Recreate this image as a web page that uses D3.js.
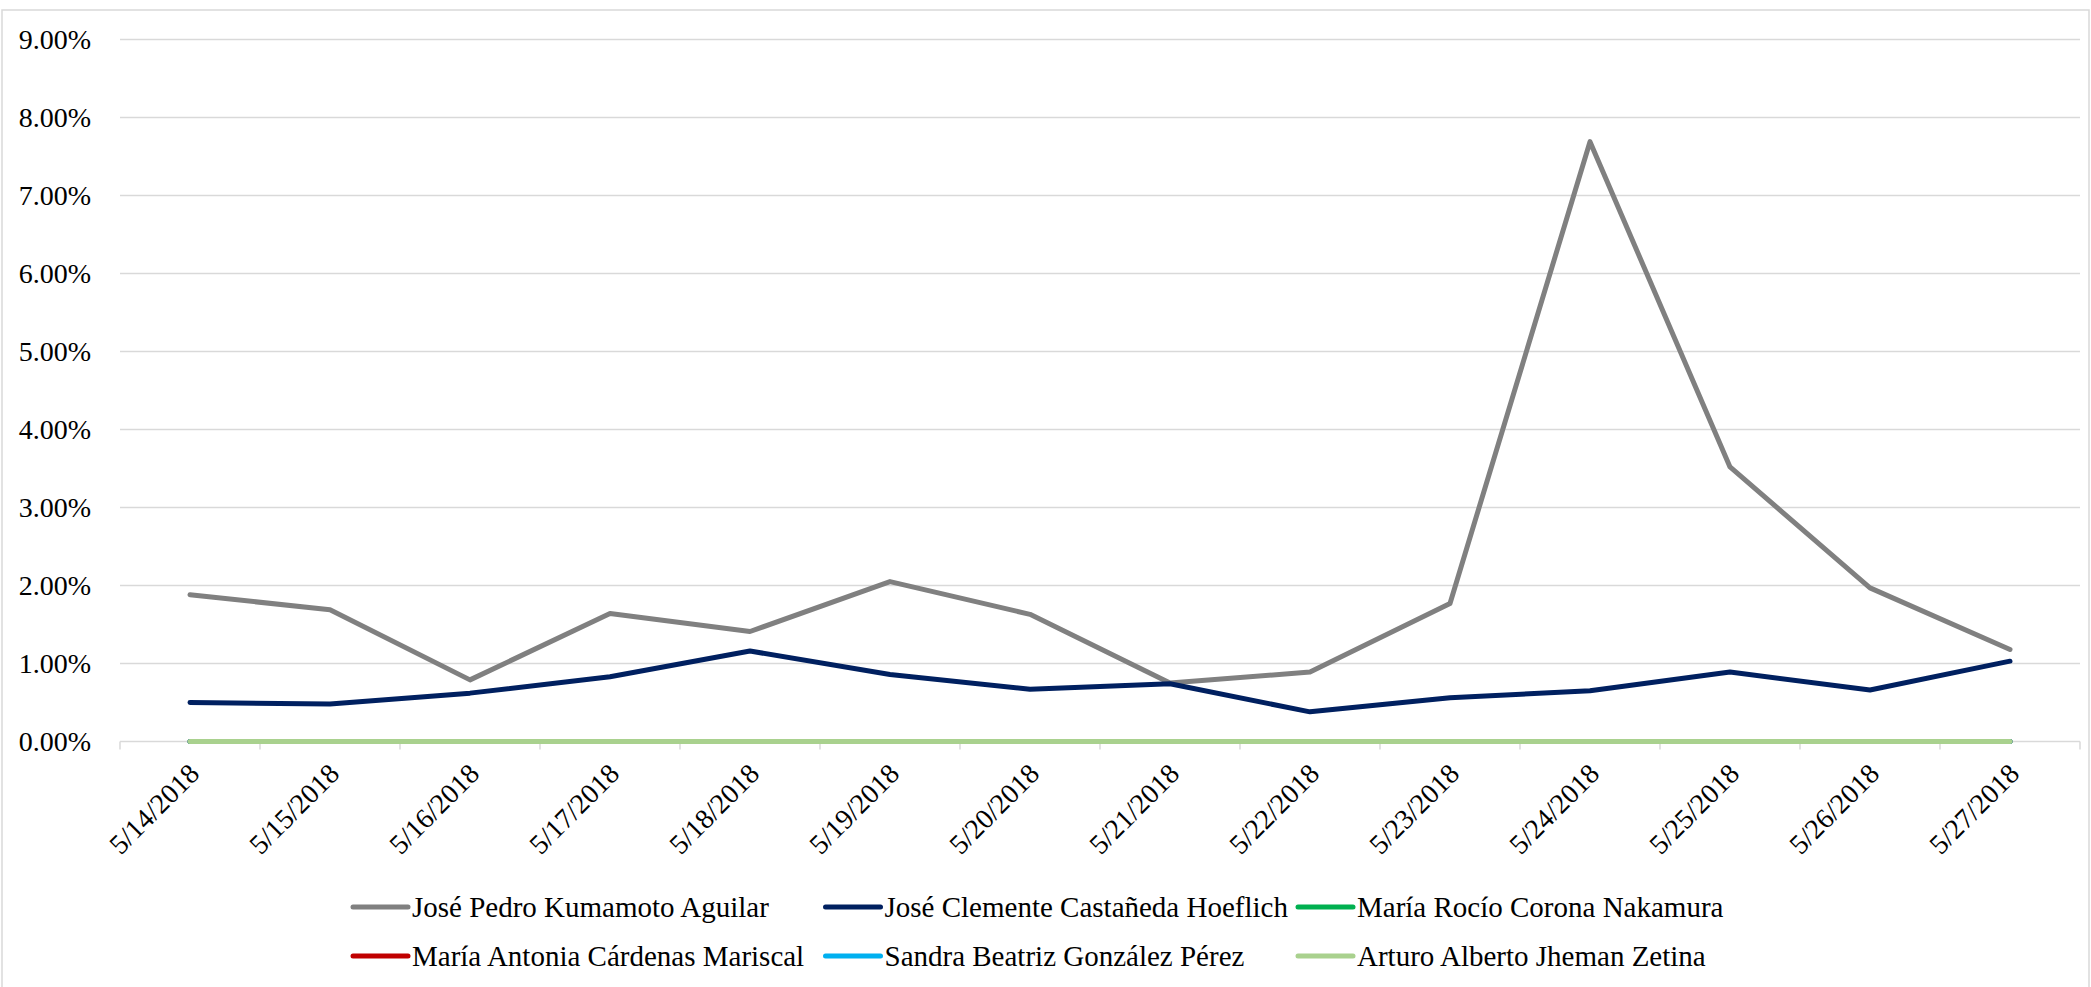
<!DOCTYPE html>
<html lang="es">

<head>
  <meta charset="UTF-8">
  <title>Line chart</title>
  <script src="https://d3js.org/d3.v7.min.js"></script>
  <style>
    body { margin: 0; background: #fff; }
    svg text { font-family: "Liberation Serif", "Times New Roman", Tinos, "DejaVu Serif", serif; fill: #000; }
    .grid line { stroke: #d9d9d9; stroke-width: 1.5px; }
    .series { fill: none; stroke-width: 5px; stroke-linejoin: round; stroke-linecap: round; }
  </style>
</head>

<body>
  <script>
    // data
    const dates = ["5/14/2018", "5/15/2018", "5/16/2018", "5/17/2018", "5/18/2018", "5/19/2018", "5/20/2018",
      "5/21/2018", "5/22/2018", "5/23/2018", "5/24/2018", "5/25/2018", "5/26/2018", "5/27/2018"];
    const names = ["José Pedro Kumamoto Aguilar", "José Clemente Castañeda Hoeflich", "María Rocío Corona Nakamura",
      "María Antonia Cárdenas Mariscal", "Sandra Beatriz González Pérez", "Arturo Alberto Jheman Zetina"];
    const colors = ["#808080", "#002060", "#00b050", "#c00000", "#00b0f0", "#a9d18e"];
    const kumamoto = [1.88, 1.69, 0.79, 1.64, 1.41, 2.05, 1.63, 0.75, 0.89, 1.77, 7.69, 3.52, 1.97, 1.18];
    const castaneda = [0.50, 0.48, 0.62, 0.83, 1.16, 0.86, 0.67, 0.74, 0.38, 0.56, 0.65, 0.89, 0.66, 1.03];
    const corona = [0, 0, 0, 0, 0, 0, 0, 0, 0, 0, 0, 0, 0, 0];
    const cardenas = [0, 0, 0, 0, 0, 0, 0, 0, 0, 0, 0, 0, 0, 0];
    const gonzalez = [0, 0, 0, 0, 0, 0, 0, 0, 0, 0, 0, 0, 0, 0];
    const jheman = [0, 0, 0, 0, 0, 0, 0, 0, 0, 0, 0, 0, 0, 0];
    const yTicks = [0, 1, 2, 3, 4, 5, 6, 7, 8, 9];

    const series = [kumamoto, castaneda, corona, cardenas, gonzalez, jheman];
    const serif = '"Liberation Serif", "Times New Roman", Tinos, "DejaVu Serif", serif';

    const W = 2091, H = 987;
    const plot = { left: 120, right: 2080, top: 39.5, bottom: 741.5 };

    const svg = d3.select("body").append("svg")
      .attr("width", W)
      .attr("height", H)
      .attr("font-family", serif);

    // chart border
    svg.append("rect")
      .attr("x", 2).attr("y", 10)
      .attr("width", W - 4).attr("height", H - 8)
      .attr("fill", "none")
      .attr("stroke", "#d9d9d9")
      .attr("stroke-width", 1.5);

    const x = d3.scaleBand().domain(dates).range([plot.left, plot.right]);
    const y = d3.scaleLinear().domain([0, 9]).range([plot.bottom, plot.top]);

    // horizontal gridlines
    svg.append("g").attr("class", "grid")
      .selectAll("line")
      .data(yTicks)
      .enter().append("line")
      .attr("x1", plot.left).attr("x2", plot.right)
      .attr("y1", d => y(d)).attr("y2", d => y(d));

    // y labels
    svg.append("g")
      .selectAll("text")
      .data(yTicks)
      .enter().append("text")
      .attr("x", 91)
      .attr("y", d => y(d))
      .attr("dy", "0.35em")
      .attr("text-anchor", "end")
      .style("font-family", serif)
      .style("font-size", "28px")
      .text(d => d3.format(".2f")(d) + "%");

    // category tick marks
    const bounds = dates.map(d => x(d)).concat([plot.right]);
    svg.append("g").attr("class", "grid")
      .selectAll("line")
      .data(bounds)
      .enter().append("line")
      .attr("x1", d => d).attr("x2", d => d)
      .attr("y1", plot.bottom).attr("y2", plot.bottom + 8);

    // x labels rotated
    svg.append("g")
      .selectAll("text")
      .data(dates)
      .enter().append("text")
      .attr("transform", d => "translate(" + (x(d) + x.bandwidth() / 2 + 4) + "," + (plot.bottom + 27) + ") rotate(-45)")
      .attr("text-anchor", "end")
      .attr("dy", "0.35em")
      .style("font-family", serif)
      .style("font-size", "28px")
      .text(d => d);

    // lines
    const line = d3.line()
      .x((d, i) => x(dates[i]) + x.bandwidth() / 2)
      .y(d => y(d));

    svg.append("g")
      .selectAll("path")
      .data(series)
      .enter().append("path")
      .attr("class", "series")
      .attr("stroke", (d, i) => colors[i])
      .attr("d", line);

    // legend
    const leg = svg.append("g")
      .selectAll("g")
      .data(names)
      .enter().append("g")
      .attr("transform", (d, i) => "translate(" + (353 + (i % 3) * 472.5) + "," + (907 + Math.floor(i / 3) * 49) + ")");

    leg.append("line")
      .attr("x1", 0).attr("x2", 55)
      .attr("stroke", (d, i) => colors[i])
      .attr("stroke-width", 5)
      .attr("stroke-linecap", "round");

    leg.append("text")
      .attr("x", 59)
      .attr("dy", "0.35em")
      .style("font-family", serif)
      .style("font-size", "29px")
      .text(d => d);
  </script>
</body>

</html>
